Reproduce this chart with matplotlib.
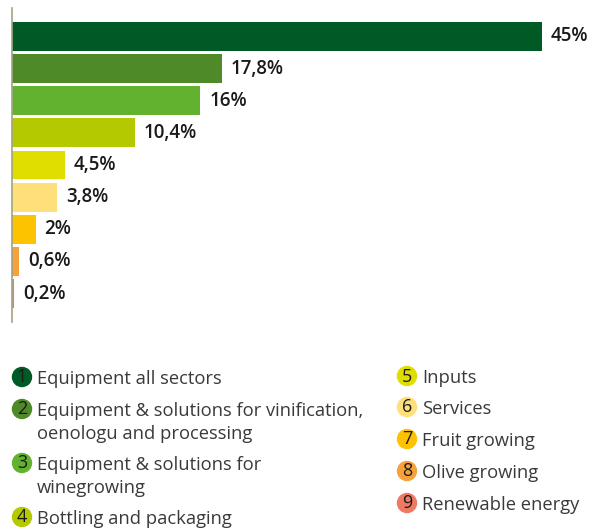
import matplotlib.pyplot as plt
from matplotlib.patches import Circle

plt.rcParams['font.family'] = ['Open Sans', 'DejaVu Sans']

# data
values = [45, 17.8, 16, 10.4, 4.5, 3.8, 2, 0.6, 0.2]
value_labels = ['45%', '17,8%', '16%', '10,4%', '4,5%', '3,8%', '2%', '0,6%', '0,2%']
colors = ['#005a26', '#4e8a27', '#62b22f', '#b5c900', '#e0de00',
          '#fedf7a', '#fdc300', '#f6a23b', '#ee7a63']
categories = ['Equipment all sectors',
              'Equipment & solutions for vinification,\noenologu and processing',
              'Equipment & solutions for\nwinegrowing',
              'Bottling and packaging',
              'Inputs', 'Services', 'Fruit growing', 'Olive growing',
              'Renewable energy']

W, H = 598, 528
fig = plt.figure(figsize=(W / 100, H / 100), dpi=100)

# bar chart
ax = fig.add_axes([12 / W, 1 - 322 / H, 1 - 12 / W, 314 / H])
pos = list(range(len(values)))
ax.barh(pos, values, height=0.9, color=colors)
for p, v, lab in zip(pos, values, value_labels):
    ax.annotate(lab, (v, p), xytext=(6.5, 0), textcoords='offset points',
                va='center', ha='left', fontsize=13.5, fontweight='semibold',
                color='#1a1a1a')
ax.set_xlim(0, 49.75)
ax.set_ylim(8.887, -0.887)
for s in ['top', 'right', 'bottom']:
    ax.spines[s].set_visible(False)
ax.spines['left'].set_color('#a3a385')
ax.spines['left'].set_linewidth(1.2)
ax.set_xticks([])
ax.set_yticks([])

# legend drawn in pixel coordinates
lg = fig.add_axes([0, 0, 1, 1])
lg.set_xlim(0, W)
lg.set_ylim(H, 0)
lg.axis('off')

left_rows = [377, 409, 463, 517]
right_rows = [376, 407, 439, 471, 503]
entries = [(22, y) for y in left_rows] + [(407, y) for y in right_rows]
for i, ((cx, cy), col, lab) in enumerate(zip(entries, colors, categories)):
    lg.add_patch(Circle((cx, cy), 9.5, color=col))
    lg.text(cx, cy + 0.5, str(i + 1), ha='center', va='center',
            fontsize=13, color='#1a1a1a')
    for k, line in enumerate(lab.split('\n')):
        lg.text(cx + 15, cy + 23 * k, line, ha='left', va='center_baseline',
                fontsize=13.2, color='#3a3a3a')

fig.savefig('out.png', dpi=100)
